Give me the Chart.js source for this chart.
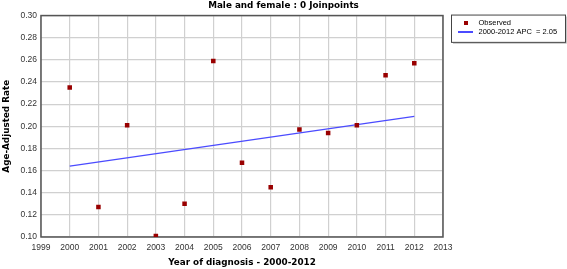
<!DOCTYPE html>
<html>
<head>
<meta charset="utf-8">
<script src="https://cdn.jsdelivr.net/npm/chart.js@4/dist/chart.umd.min.js"></script>
<style>
  html, body { margin: 0; padding: 0; background: #fff; }
  #wrap { width: 567px; height: 269px; position: relative; }
</style>
</head>
<body>
<div id="wrap"><canvas id="chart"></canvas></div>
<script>
// Joinpoint output: observed age-adjusted rates and the single-segment fit
const years = [2000, 2001, 2002, 2003, 2004, 2005, 2006, 2007, 2008, 2009, 2010, 2011, 2012];
const observed = [0.235, 0.127, 0.201, 0.101, 0.130, 0.259, 0.167, 0.145, 0.197, 0.194, 0.201, 0.246, 0.257];
const fitYears = [2000, 2012];
const fitted = [0.164, 0.209];
const seriesLabels = ['Observed', '2000-2012 APC  = 2.05'];
const xRange = [1999, 2013];
const yRange = [0.10, 0.30];

const RED = '#990000';
const BLUE = '#4b4bff';
const TICK_FONT = { family: 'Liberation Sans', size: 8.5 };
const BOLD_FONT = { family: 'DejaVu Sans', size: 8.8, weight: 'bold' };

// small legend glyphs (square marker, short line)
function glyph(w, h, colour) {
  const c = document.createElement('canvas');
  c.width = w; c.height = h;
  const g = c.getContext('2d');
  g.fillStyle = colour;
  g.fillRect(0, 0, w, h);
  return c;
}
const glyphs = [glyph(4, 4, RED), glyph(15, 2, BLUE)];

const framePlugin = {
  id: 'frame',
  afterLayout(chart) {
    // park the legend in the strip right of the plot
    const lg = chart.legend;
    lg.left = chart.chartArea.right + 11.75;
    lg.top = chart.chartArea.top + 2;
    lg.right = lg.left + lg.width;
    lg.bottom = lg.top + lg.height;
  },
  beforeDatasetsDraw(chart) {
    const { ctx, chartArea: a, legend: lg } = chart;
    ctx.save();
    // plot box
    ctx.strokeStyle = '#555';
    ctx.lineWidth = 1.5;
    ctx.strokeRect(a.left, a.top, a.right - a.left, a.bottom - a.top);
    // legend box with a soft shadow
    const x0 = lg.left - 3.75, y0 = lg.top - 3, x1 = 565, y1 = lg.top + 24.3;
    ctx.strokeStyle = '#c8c8c8';
    ctx.lineWidth = 1;
    ctx.beginPath();
    ctx.moveTo(x0 + 2, y1 + 1.5); ctx.lineTo(x1 + 1.5, y1 + 1.5); ctx.lineTo(x1 + 1.5, y0 + 2);
    ctx.stroke();
    ctx.strokeStyle = '#444';
    ctx.strokeRect(x0 + 0.5, y0 + 0.5, x1 - x0, y1 - y0);
    ctx.restore();
  }
};

new Chart(document.getElementById('chart'), {
  type: 'scatter',
  data: {
    datasets: [
      {
        label: seriesLabels[0],
        data: years.map((y, i) => ({ x: y, y: observed[i] })),
        pointStyle: 'rect',
        pointRadius: 3.2,
        pointHoverRadius: 3.2,
        backgroundColor: RED,
        borderColor: RED,
        borderWidth: 0,
        order: 0,
      },
      {
        label: seriesLabels[1],
        data: fitYears.map((y, i) => ({ x: y, y: fitted[i] })),
        showLine: true,
        pointRadius: 0,
        borderColor: BLUE,
        borderWidth: 1.3,
        order: 1,
      },
    ],
  },
  options: {
    responsive: true,
    maintainAspectRatio: false,
    animation: false,
    layout: { padding: 0 },
    plugins: {
      title: {
        display: true,
        text: 'Male and female : 0 Joinpoints',
        color: '#000',
        font: BOLD_FONT,
        padding: { top: 0, bottom: 5 },
      },
      legend: {
        position: 'chartArea',
        align: 'start',
        labels: {
          usePointStyle: true,
          pointStyleWidth: 18.5,
          padding: 1.5,
          color: '#000',
          font: { family: 'Liberation Sans', size: 7.5 },
          generateLabels: (chart) => chart.data.datasets.map((ds, i) => ({
            text: ds.label,
            pointStyle: glyphs[i],
            fillStyle: ds.borderColor,
            strokeStyle: ds.borderColor,
            lineWidth: 0,
            hidden: false,
            datasetIndex: i,
          })),
        },
      },
      tooltip: { enabled: false },
    },
    scales: {
      x: {
        type: 'linear',
        min: xRange[0],
        max: xRange[1],
        afterFit: (s) => { s.height = 32; },
        ticks: { stepSize: 1, color: '#333', font: TICK_FONT, padding: 6, callback: (v) => String(v) },
        grid: { color: '#d0d0d0', lineWidth: 1.2, drawTicks: false },
        border: { display: false },
        title: { display: true, text: 'Year of diagnosis - 2000-2012', color: '#000', font: BOLD_FONT, padding: { top: 0, bottom: 1 } },
      },
      y: {
        min: yRange[0],
        max: yRange[1],
        afterFit: (s) => { s.width = 41; },
        ticks: { stepSize: 0.02, color: '#333', font: TICK_FONT, padding: 4, callback: (v) => v.toFixed(2) },
        grid: { color: '#d0d0d0', lineWidth: 1.2, drawTicks: false },
        border: { display: false },
        title: { display: true, text: 'Age-Adjusted Rate', color: '#000', font: BOLD_FONT, padding: { top: 1, bottom: 0 } },
      },
      // empty strip on the right that holds the legend
      side: {
        position: 'right',
        min: yRange[0],
        max: yRange[1],
        afterFit: (s) => { s.width = 124; },
        ticks: { display: false },
        grid: { display: false },
        border: { display: false },
      },
    },
  },
  plugins: [framePlugin],
});
</script>
</body>
</html>
